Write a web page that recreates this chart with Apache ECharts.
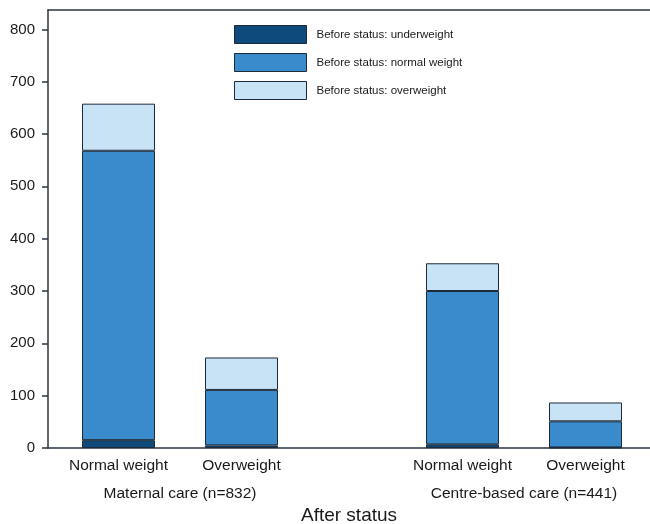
<!DOCTYPE html>
<html><head><meta charset="utf-8">
<script src="https://cdn.jsdelivr.net/npm/echarts@6/dist/echarts.min.js"></script>
<style>html,body{margin:0;padding:0;background:#fff}#c{width:650px;height:524px}</style>
</head><body><div id="c"></div>
<script>
const groups = ['Maternal care (n=832)', 'Centre-based care (n=441)'];
const afterCategories = ['Normal weight', 'Overweight'];
const seriesNames = ['Before status: underweight', 'Before status: normal weight', 'Before status: overweight'];
const maternalUnder = [15, 5];
const maternalNormal = [553, 106];
const maternalOver = [90, 62];
const centreUnder = [7, 1];
const centreNormal = [293, 50];
const centreOver = [53, 36];
const yTicks = [0, 100, 200, 300, 400, 500, 600, 700, 800];
const yMax = 837;

const colors = ['#0f4a7c', '#3a8bcb', '#c8e3f6'];
const borderColor = '#1c2a3a';
const font = 'Liberation Sans, Arial, sans-serif';
const axisColor = '#2b3440';
const textColor = '#1a1a1a';

function barSeries(name, data, idx, gi, stack) {
  return {
    type: 'bar', name: name, data: data, stack: stack,
    xAxisIndex: gi + 1, yAxisIndex: gi,
    barWidth: 73,
    itemStyle: { color: colors[idx], borderColor: borderColor, borderWidth: 1 },
    emphasis: { disabled: true }
  };
}

const chart = echarts.init(document.getElementById('c'), null, { renderer: 'canvas' });
chart.setOption({
  animation: false,
  textStyle: { fontFamily: font },
  grid: [
    { left: 48, right: 0, top: 10, bottom: 76, outerBoundsMode: 'none', containLabel: false },
    { left: 57, width: 246, top: 10, bottom: 76, outerBoundsMode: 'none', containLabel: false },
    { left: 401, width: 246, top: 10, bottom: 76, outerBoundsMode: 'none', containLabel: false }
  ],
  legend: {
    orient: 'vertical', left: 234, top: 25, padding: 0,
    itemWidth: 72, itemHeight: 18, itemGap: 9,
    icon: 'rect', selectedMode: false,
    data: seriesNames,
    itemStyle: { borderColor: borderColor, borderWidth: 1 },
    textStyle: { fontSize: 11.5, color: textColor, fontFamily: font, padding: [0, 0, 0, 5] }
  },
  xAxis: [
    { gridIndex: 0, type: 'category', data: [''], position: 'bottom',
      axisLine: { show: true, lineStyle: { color: axisColor, width: 1.5 } },
      axisTick: { show: false }, axisLabel: { show: false }, splitLine: { show: false },
      name: 'After status', nameLocation: 'middle', nameGap: 58,
      nameTextStyle: { fontSize: 19, color: textColor, fontFamily: font } },
    { gridIndex: 0, type: 'category', data: [''], position: 'top',
      axisLine: { show: true, lineStyle: { color: axisColor, width: 1.5 } },
      axisTick: { show: false }, axisLabel: { show: false }, splitLine: { show: false } },
    { gridIndex: 1, type: 'category', data: afterCategories,
      axisLine: { show: false }, axisTick: { show: false },
      axisLabel: { interval: 0, fontSize: 15.5, color: textColor, margin: 10, fontFamily: font },
      name: groups[0], nameLocation: 'middle', nameGap: 38,
      nameTextStyle: { fontSize: 15.5, color: textColor, fontFamily: font } },
    { gridIndex: 2, type: 'category', data: afterCategories,
      axisLine: { show: false }, axisTick: { show: false },
      axisLabel: { interval: 0, fontSize: 15.5, color: textColor, margin: 10, fontFamily: font },
      name: groups[1], nameLocation: 'middle', nameGap: 38,
      nameTextStyle: { fontSize: 15.5, color: textColor, fontFamily: font } }
  ],
  yAxis: [
    { gridIndex: 0, type: 'value', min: 0, max: yMax,
      axisLine: { show: true, lineStyle: { color: axisColor, width: 1.5 } },
      axisTick: { show: true, length: 6, customValues: yTicks, lineStyle: { color: axisColor, width: 1.5 } },
      axisLabel: { customValues: yTicks, fontSize: 15, color: textColor, margin: 13, fontFamily: font,
        formatter: function (v) { return yTicks.indexOf(v) >= 0 ? String(v) : ''; } },
      splitLine: { show: false } },
    { gridIndex: 1, type: 'value', min: 0, max: yMax, show: false },
    { gridIndex: 2, type: 'value', min: 0, max: yMax, show: false }
  ],
  series: [
    barSeries(seriesNames[0], maternalUnder, 0, 1, 'm'),
    barSeries(seriesNames[1], maternalNormal, 1, 1, 'm'),
    barSeries(seriesNames[2], maternalOver, 2, 1, 'm'),
    barSeries(seriesNames[0], centreUnder, 0, 2, 'c'),
    barSeries(seriesNames[1], centreNormal, 1, 2, 'c'),
    barSeries(seriesNames[2], centreOver, 2, 2, 'c')
  ]
});
</script>
</body></html>
